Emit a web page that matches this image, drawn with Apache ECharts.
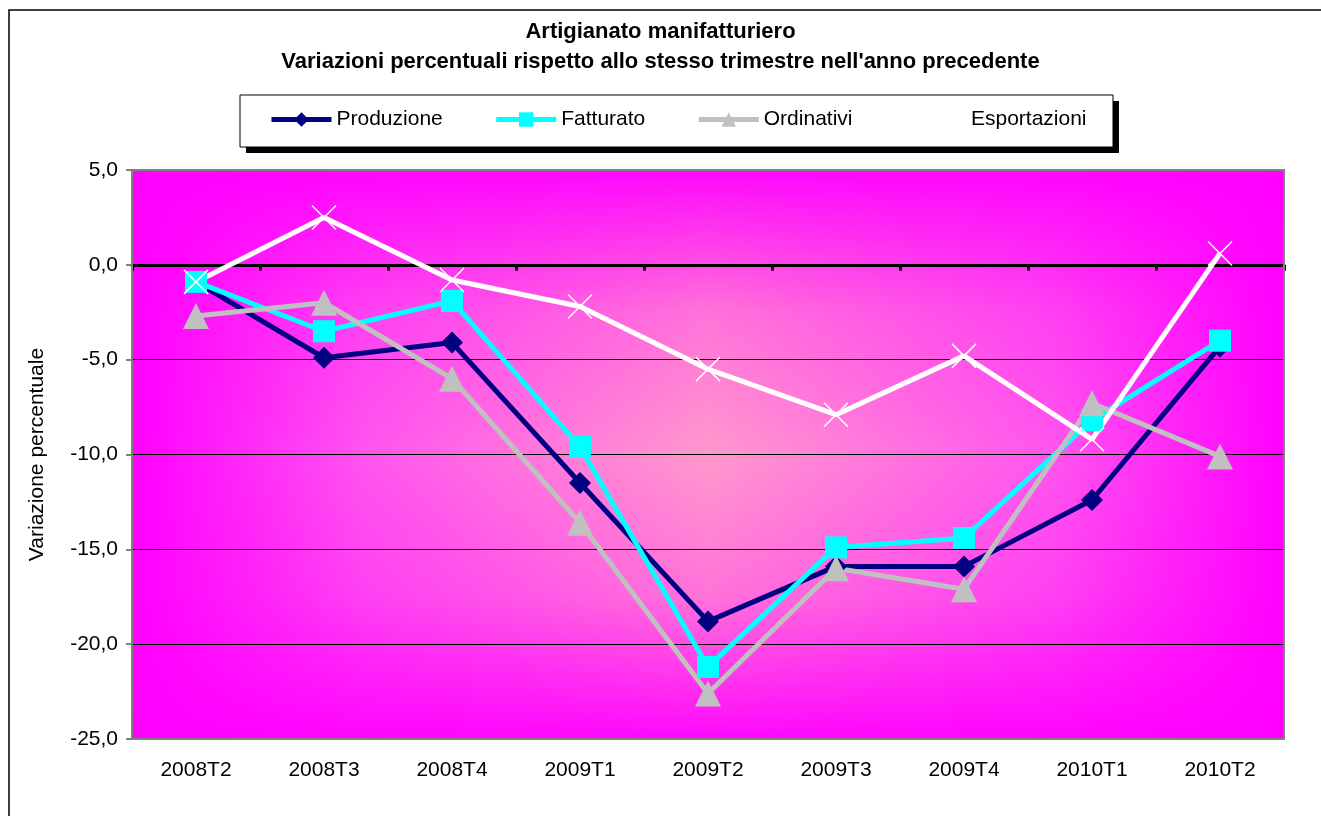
<!DOCTYPE html>
<html>
<head>
<meta charset="utf-8">
<title>Artigianato manifatturiero</title>
<script src="https://cdn.jsdelivr.net/npm/echarts@6/dist/echarts.min.js"></script>
<style>
  html, body { margin: 0; padding: 0; background: #fff; }
  #chart { width: 1321px; height: 816px; }
</style>
</head>
<body>
<div id="chart"></div>
<script>
  // dati
  const trimestri = ['2008T2', '2008T3', '2008T4', '2009T1', '2009T2', '2009T3', '2009T4', '2010T1', '2010T2']
  const produzione = [-0.9, -4.9, -4.1, -11.5, -18.8, -15.9, -15.9, -12.4, -4.3]
  const fatturato = [-0.9, -3.5, -1.9, -9.6, -21.2, -14.9, -14.4, -8.2, -4.0]
  const ordinativi = [-2.7, -2.0, -6.0, -13.6, -22.6, -16.0, -17.1, -7.3, -10.1]
  const esportazioni = [-0.9, 2.5, -0.8, -2.2, -5.5, -7.9, -4.8, -9.2, 0.6]

  const font = 'Liberation Sans, Arial, sans-serif'

  // area del grafico (pixel)
  const plot = { x: 132, y: 170, w: 1152, h: 569 }

  const chart = echarts.init(document.getElementById('chart'))
  const option = {
    animation: false,
    title: {
      text: 'Artigianato manifatturiero\nVariazioni percentuali rispetto allo stesso trimestre nell\'anno precedente',
      left: 'center',
      top: 12,
      textStyle: { fontFamily: font, fontSize: 22, fontWeight: 'bold', color: '#000', lineHeight: 30 }
    },
    legend: {
      left: 269,
      top: 109,
      padding: 0,
      itemWidth: 60,
      itemHeight: 18,
      itemGap: 51,
      lineStyle: { width: 5 },
      textStyle: { fontFamily: font, fontSize: 21, color: '#000' },
      data: ['Produzione', 'Fatturato', 'Ordinativi', 'Esportazioni']
    },
    graphic: [
      // bordo esterno del grafico
      { type: 'rect', z: -20, shape: { x: 9, y: 10, width: 1330, height: 830 }, style: { fill: '#fff', stroke: '#000', lineWidth: 1.5 } },
      // riquadro legenda con ombra
      { type: 'rect', z: -15, shape: { x: 246, y: 101, width: 873, height: 52 }, style: { fill: '#000' } },
      { type: 'rect', z: -14, shape: { x: 240, y: 95, width: 873, height: 52 }, style: { fill: '#fff', stroke: '#000', lineWidth: 1 } },
      // sfondo sfumato dall'interno
      {
        type: 'rect', z: -10, shape: { x: plot.x, y: plot.y, width: plot.w, height: plot.h },
        style: {
          fill: { type: 'linear', x: 0, y: 0, x2: 1, y2: 0, colorStops: [
            { offset: 0, color: '#ff00ff' }, { offset: 0.2, color: '#ff55ee' }, { offset: 0.5, color: '#ff99cc' },
            { offset: 0.8, color: '#ff55ee' }, { offset: 1, color: '#ff00ff' }
          ] }
        }
      },
      {
        type: 'rect', z: -9, shape: { x: plot.x, y: plot.y, width: plot.w, height: plot.h },
        style: {
          fill: { type: 'linear', x: 0, y: 0, x2: 0, y2: 1, colorStops: [
            { offset: 0, color: 'rgba(255,0,255,0.95)' }, { offset: 0.25, color: 'rgba(255,0,255,0.25)' },
            { offset: 0.5, color: 'rgba(255,0,255,0)' },
            { offset: 0.75, color: 'rgba(255,0,255,0.25)' }, { offset: 1, color: 'rgba(255,0,255,0.95)' }
          ] }
        }
      },
      // bordo area grafico
      { type: 'rect', z: 1, shape: { x: plot.x, y: plot.y, width: plot.w, height: plot.h }, style: { fill: 'none', stroke: '#808080', lineWidth: 2 } }
    ],
    grid: { left: plot.x, top: plot.y, width: plot.w, height: plot.h },
    xAxis: [
      {
        type: 'category',
        data: trimestri,
        position: 'bottom',
        axisLine: { show: false, onZero: false },
        axisTick: { show: false },
        axisLabel: { fontFamily: font, fontSize: 21, color: '#000', margin: 21, interval: 0 }
      },
      {
        type: 'category',
        data: trimestri,
        position: 'bottom',
        axisLine: { show: true, onZero: true, lineStyle: { color: '#000', width: 3 } },
        axisTick: { show: true, length: 6, interval: 0, lineStyle: { color: '#000', width: 3 } },
        axisLabel: { show: false }
      }
    ],
    yAxis: {
      type: 'value',
      min: -25,
      max: 5,
      interval: 5,
      name: 'Variazione percentuale',
      nameLocation: 'middle',
      nameGap: 84,
      nameTextStyle: { fontFamily: font, fontSize: 21, color: '#000' },
      axisLine: { show: true, lineStyle: { color: '#808080', width: 2 } },
      axisTick: { show: true, length: 6, lineStyle: { color: '#808080', width: 2 } },
      axisLabel: {
        fontFamily: font, fontSize: 21, color: '#000', margin: 14,
        formatter: function (v) { return v.toFixed(1).replace('.', ',') }
      },
      splitLine: { show: true, lineStyle: { color: '#000', width: 1 } }
    },
    series: [
      {
        name: 'Produzione', type: 'line', data: produzione,
        symbol: 'diamond', symbolSize: 22,
        lineStyle: { color: '#000080', width: 5 },
        itemStyle: { color: '#000080' }
      },
      {
        name: 'Fatturato', type: 'line', data: fatturato,
        symbol: 'rect', symbolSize: 22,
        lineStyle: { color: '#00ffff', width: 5 },
        itemStyle: { color: '#00ffff' }
      },
      {
        name: 'Ordinativi', type: 'line', data: ordinativi,
        symbol: 'triangle', symbolSize: 26,
        lineStyle: { color: '#c0c0c0', width: 5 },
        itemStyle: { color: '#c0c0c0' }
      },
      {
        name: 'Esportazioni', type: 'line', data: esportazioni,
        symbol: 'path://M0,0L10,10M10,0L0,10', symbolSize: 24,
        lineStyle: { color: '#ffffff', width: 5 },
        itemStyle: { color: '#ffffff', borderColor: '#ffffff', borderWidth: 1.5 }
      }
    ]
  }
  chart.setOption(option)
</script>
</body>
</html>
